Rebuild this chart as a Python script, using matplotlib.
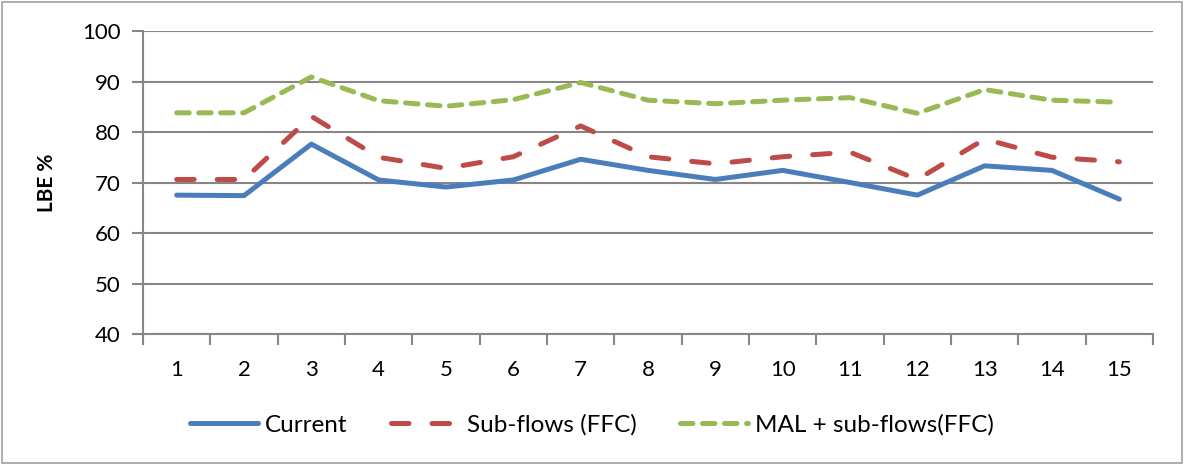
import matplotlib.pyplot as plt
from matplotlib.patches import Rectangle

plt.rcParams['font.family'] = ['Lato', 'DejaVu Sans']

runs = list(range(1, 16))
current = [67.5, 67.4, 77.6, 70.5, 69.1, 70.5, 74.6, 72.4, 70.6, 72.4, 70.0, 67.5, 73.3, 72.4, 66.7]
sub_flows = [70.6, 70.6, 83.1, 75.0, 72.8, 75.1, 81.2, 75.1, 73.7, 75.1, 76.0, 70.6, 78.6, 75.0, 74.1]
mal_sub_flows = [83.8, 83.8, 90.9, 86.2, 85.1, 86.4, 89.8, 86.3, 85.6, 86.3, 86.8, 83.7, 88.4, 86.3, 85.9]

fig = plt.figure(figsize=(11.84, 4.65), dpi=100)
ax = fig.add_axes([143 / 1184, 1 - 334 / 465, (1153 - 143) / 1184, (334 - 31) / 465])

ax.plot(runs, current, color='#4a7ebb', lw=3.6, solid_capstyle='round', label='Current')
ax.plot(runs, sub_flows, color='#be4b48', lw=3.6, dashes=(3.5, 4.6), dash_capstyle='round',
        label='Sub-flows (FFC)')
ax.plot(runs, mal_sub_flows, color='#98b954', lw=3.6, dashes=(2.5, 1.9), dash_capstyle='round',
        label='MAL + sub-flows(FFC)')

ax.set_xlim(0.5, 15.5)
ax.set_ylim(40, 100)
ax.set_yticks(range(40, 101, 10))
ax.set_xticks(runs)
ax.set_xticks([r + 0.5 for r in range(0, 16)], minor=True)
ax.tick_params(axis='x', which='major', length=0, pad=19, labelsize=16)
ax.tick_params(axis='x', which='minor', length=8, color='#868686', width=1.5, direction='out')
ax.tick_params(axis='y', length=8, color='#868686', width=1.5, pad=8, labelsize=16)
ax.grid(axis='y', color='#868686', lw=1.5)
ax.set_axisbelow(True)
for side in ['top', 'right']:
    ax.spines[side].set_visible(False)
for side in ['left', 'bottom']:
    ax.spines[side].set_color('#868686')
    ax.spines[side].set_linewidth(1.5)

ax.set_ylabel('LBE %', fontsize=15, fontweight='bold', labelpad=18)

fig.legend(loc='center', bbox_to_anchor=(0.5, 1 - 425 / 465), ncol=3, frameon=False,
           fontsize=17.5, handlelength=2.8, handletextpad=0.3, columnspacing=1.8)

fig.patches.append(Rectangle((2 / 1184, 2 / 465), 1 - 4 / 1184, 1 - 4 / 465, transform=fig.transFigure,
                             fill=False, edgecolor='#a0a0a0', lw=1.2))

fig.savefig('out.png', dpi=100)
